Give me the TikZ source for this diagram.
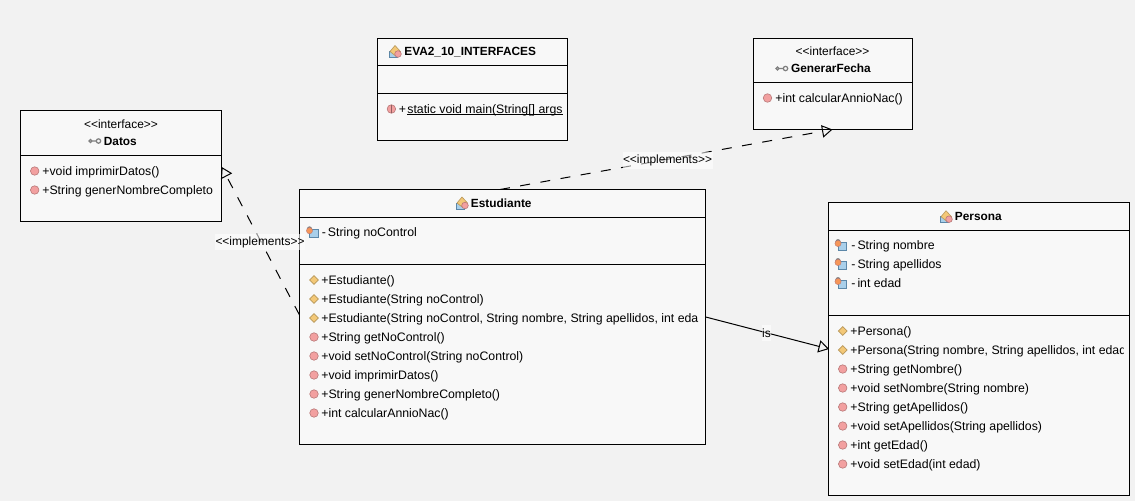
\documentclass[tikz,border=0pt]{standalone}
\usepackage{fontspec}
\setmainfont{Liberation Sans}
\usetikzlibrary{arrows.meta,positioning,shapes.geometric}

\definecolor{bgcol}{HTML}{F2F2F2}
\definecolor{boxcol}{HTML}{F8F8F8}
\definecolor{methcol}{HTML}{F2A0A0}
\definecolor{methdraw}{HTML}{B87878}
\definecolor{ctorcol}{HTML}{F3C877}
\definecolor{ctordraw}{HTML}{B8975A}
\definecolor{fieldcol}{HTML}{A9CFEA}
\definecolor{fielddraw}{HTML}{5C87A8}

\tikzset{
	umlbox/.style={draw=black,fill=boxcol,line width=0.02cm,inner sep=0,outer sep=0,anchor=north west},
	umlline/.style={black,line width=0.02cm},
	row/.style={inner sep=0,anchor=base west,font=\fontsize{7}{8}\selectfont},
	title/.style={inner sep=0,anchor=base west,font=\fontsize{6.75}{8}\selectfont\bfseries},
	stereo/.style={inner sep=0,anchor=base,font=\fontsize{6.8}{8}\selectfont},
	meth/.style={circle,draw=methdraw,fill=methcol,line width=0.012cm,minimum size=0.17cm,inner sep=0},
	ctor/.style={diamond,aspect=1,draw=ctordraw,fill=ctorcol,line width=0.012cm,minimum size=0.18cm,inner sep=0},
	tag/.style={fill=white,fill opacity=0.55,text opacity=1,inner sep=0,font=\fontsize{6.8}{8}\selectfont},
	realize/.style={black,line width=0.02cm,dash pattern=on 0.2cm off 0.21cm,-{Triangle[open,length=0.21cm,width=0.25cm,line width=0.02cm]}},
	inherit/.style={black,line width=0.02cm,-{Triangle[open,length=0.21cm,width=0.25cm,line width=0.02cm]}},
	pics/fieldicon/.style={code={
		\draw[draw=fielddraw,fill=fieldcol,line width=0.012cm] (0,-3) rectangle (8.5,4.5);
		\fill[gray] (0,-3.8) circle (2.6);
		\draw[draw=methdraw,fill=ctorcol!75!red,line width=0.008cm] (0,-2) circle (3.1);
	}},
	pics/classicon/.style={code={
		\draw[draw=fielddraw,fill=fieldcol,line width=0.012cm] (-6,0) rectangle (2,6);
		\draw[draw=ctordraw,fill=ctorcol,line width=0.012cm] (0,-6) -- (5.5,0) -- (0,4) -- (-5,0) -- cycle;
		\draw[draw=methdraw,fill=methcol,line width=0.012cm] (3,2.5) circle (3.3);
	}},
	pics/ifaceicon/.style={code={
		\draw[gray,line width=0.024cm] (-4,0) circle (1.5) (-2.5,0) -- (1.8,0) (4,0) circle (2.2);
	}}
}

\begin{document}
\begin{tikzpicture}[x=0.02cm,y=-0.02cm]
	
	\useasboundingbox[fill=bgcol] (0,0) rectangle (1135,501);
	
	% Datos
	\node[umlbox,minimum width=4.02cm,minimum height=2.22cm] (datos) at (20.5,110.5) {};
	\draw[umlline] (datos.west |- 0,155.5) -- (datos.east |- 0,155.5);
	\node[stereo] (datosStereo) at (121,128.5) {<{}<interface>{}>};
	\pic at (94.5,141) {ifaceicon};
	\node[title] (datosTitle) at (103.5,145.7) {Datos};
	\node[meth] (datosIconA) at (34.7,171) {};
	\node[row] (datosA) at (42,175) {+void imprimirDatos()};
	\node[meth] (datosIconB) at (34.7,190) {};
	\node[row] (datosB) at (42,194) {+String generNombreCompleto};
	
	% EVA2_10_INTERFACES
	\node[umlbox,minimum width=3.8cm,minimum height=2.04cm] (eva) at (377.5,38.5) {};
	\draw[umlline] (eva.west |- 0,65.5) -- (eva.east |- 0,65.5);
	\draw[umlline] (eva.west |- 0,93.5) -- (eva.east |- 0,93.5);
	\pic at (395,51.5) {classicon};
	\node[title] (evaTitle) at (404,55.7) {EVA2\_10\_INTERFACES};
	\node[meth] (evaIconA) at (391.4,109) {};
	\fill[methdraw!80!black] (390.9,105) rectangle (391.9,113);
	\node[row] (evaPlus) at (398.6,113) {+};
	\node[row] (evaA) at (407,113) {static void main(String[] args};
	\draw[black,line width=0.02cm] ([yshift=-0.02cm]evaA.base west) -- ([yshift=-0.02cm]evaA.base east);
	
	% GenerarFecha
	\node[umlbox,minimum width=3.18cm,minimum height=1.82cm] (generar) at (753.5,38.5) {};
	\draw[umlline] (generar.west |- 0,82.5) -- (generar.east |- 0,82.5);
	\node[stereo] (generarStereo) at (832.5,55.7) {<{}<interface>{}>};
	\pic at (781.5,68.5) {ifaceicon};
	\node[title] (generarTitle) at (790.7,72.7) {GenerarFecha};
	\node[meth] (generarIconA) at (767.5,98) {};
	\node[row] (generarA) at (775,102) {+int calcularAnnioNac()};
	
	% Estudiante
	\node[umlbox,minimum width=8.12cm,minimum height=5.1cm] (estudiante) at (299.5,189.5) {};
	\draw[umlline] (estudiante.west |- 0,217.5) -- (estudiante.east |- 0,217.5);
	\draw[umlline] (estudiante.west |- 0,264.5) -- (estudiante.east |- 0,264.5);
	\pic at (462,203) {classicon};
	\node[title] (estudianteTitle) at (470.6,207.2) {Estudiante};
	\pic at (309.5,232.7) {fieldicon};
	\node[row] (estF) at (321.5,236.7) {-\,String noControl};
	\node[ctor] (estIconA) at (314,280) {};
	\node[row] (estA) at (321,284) {+Estudiante()};
	\node[ctor] (estIconB) at (314,299) {};
	\node[row] (estB) at (321,303) {+Estudiante(String noControl)};
	\node[ctor] (estIconC) at (314,318) {};
	\node[row] (estC) at (321,322) {+Estudiante(String noControl, String nombre, String apellidos, int eda};
	\node[meth] (estIconD) at (314,337) {};
	\node[row] (estD) at (321,341) {+String getNoControl()};
	\node[meth] (estIconE) at (314,356) {};
	\node[row] (estE) at (321,360) {+void setNoControl(String noControl)};
	\node[meth] (estIconF) at (314,375) {};
	\node[row] (estG) at (321,379) {+void imprimirDatos()};
	\node[meth] (estIconH) at (314,394) {};
	\node[row] (estH) at (321,398) {+String generNombreCompleto()};
	\node[meth] (estIconI) at (314,413) {};
	\node[row] (estI) at (321,417) {+int calcularAnnioNac()};
	
	% Persona
	\node[umlbox,minimum width=6.02cm,minimum height=5.86cm] (persona) at (828.5,202.5) {};
	\draw[umlline] (persona.west |- 0,230.5) -- (persona.east |- 0,230.5);
	\draw[umlline] (persona.west |- 0,315.5) -- (persona.east |- 0,315.5);
	\pic at (946,216.7) {classicon};
	\node[title] (personaTitle) at (954.6,220.9) {Persona};
	\pic at (838,245.5) {fieldicon};
	\node[row] (perFa) at (851,249.5) {-\,String nombre};
	\pic at (838,264.5) {fieldicon};
	\node[row] (perFb) at (851,268.5) {-\,String apellidos};
	\pic at (838,283.5) {fieldicon};
	\node[row] (perFc) at (851,287.5) {-\,int edad};
	\node[ctor] (perIconA) at (842.7,331) {};
	\node[row] (perA) at (850,335) {+Persona()};
	\node[ctor] (perIconB) at (842.7,350) {};
	\begin{scope}
	\clip (830,340) rectangle (1123,360);
	\node[row] (perB) at (850,354) {+Persona(String nombre, String apellidos, int edad};
	\end{scope}
	\node[meth] (perIconC) at (842.7,369) {};
	\node[row] (perC) at (850,373) {+String getNombre()};
	\node[meth] (perIconD) at (842.7,388) {};
	\node[row] (perD) at (850,392) {+void setNombre(String nombre)};
	\node[meth] (perIconE) at (842.7,407) {};
	\node[row] (perE) at (850,411) {+String getApellidos()};
	\node[meth] (perIconF) at (842.7,426) {};
	\node[row] (perF) at (850,430) {+void setApellidos(String apellidos)};
	\node[meth] (perIconG) at (842.7,445) {};
	\node[row] (perG) at (850,449) {+int getEdad()};
	\node[meth] (perIconH) at (842.7,464) {};
	\node[row] (perH) at (850,468) {+void setEdad(int edad)};
	
	% connectors
	\coordinate (estTop) at (estudiante.north west -| 500,0);
	\coordinate (generarTip) at (832.5,129.5);
	\coordinate (estLeft) at (299.5,315);
	\coordinate (datosTip) at (221.7,167);
	\coordinate (estRight) at (705.7,317);
	\coordinate (personaTip) at (829,349);
	\draw[realize] (estTop) -- (generarTip);
	\draw[realize] (estLeft) -- (datosTip);
	\draw[inherit] (estRight) -- (personaTip);
	
	\node[tag,minimum width=1.8cm,minimum height=0.33cm] (tagTop) at (667.5,160.5) {<{}<implements>{}>};
	\node[tag,minimum width=1.8cm,minimum height=0.33cm] (tagLeft) at (260,242) {<{}<implements>{}>};
	\node[tag,minimum width=0.18cm,minimum height=0.32cm] (tagIs) at (766.5,333) {is};
	
\end{tikzpicture}
\end{document}
